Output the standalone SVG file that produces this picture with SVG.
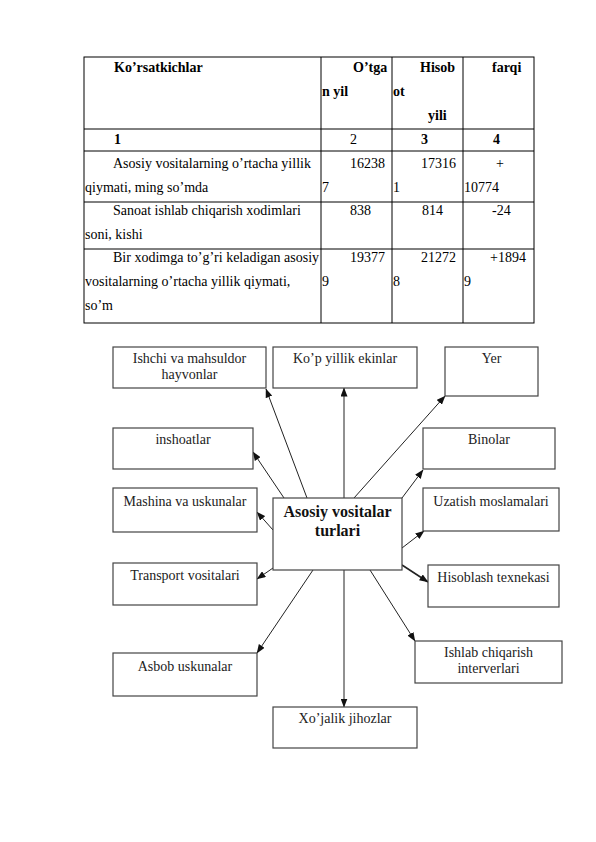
<svg xmlns="http://www.w3.org/2000/svg" width="596" height="842" viewBox="0 0 596 842">
<defs>
<style>
.t{font-family:"Liberation Serif","Times New Roman",serif;font-size:14px;fill:#000}
.b{font-weight:bold}
.tl{stroke:#000;stroke-width:1;fill:none}
.box{fill:#fff;stroke:#444;stroke-width:1.2}
.lb{font-family:"Liberation Serif","Times New Roman",serif;font-size:14px;fill:#222;text-anchor:middle}
.cn{stroke:#222;stroke-width:1;fill:none;marker-end:url(#ah)}
</style>
<marker id="ah" markerUnits="userSpaceOnUse" markerWidth="9" markerHeight="7" refX="8.5" refY="3.5" orient="auto">
<path d="M0,0 L9,3.5 L0,7 z" fill="#111"/>
</marker>
</defs>
<rect width="596" height="842" fill="#fff"/>

<g id="table">
<rect class="tl" x="84" y="57" width="450" height="266"/>
<line class="tl" x1="84" y1="129" x2="534" y2="129"/>
<line class="tl" x1="84" y1="151" x2="534" y2="151"/>
<line class="tl" x1="84" y1="202" x2="534" y2="202"/>
<line class="tl" x1="84" y1="249" x2="534" y2="249"/>
<line class="tl" x1="321" y1="57" x2="321" y2="323"/>
<line class="tl" x1="392" y1="57" x2="392" y2="323"/>
<line class="tl" x1="463" y1="57" x2="463" y2="323"/>

<text class="t b" x="114" y="72">Ko’rsatkichlar</text>
<text class="t b" x="353" y="72">O’tga</text>
<text class="t b" x="322" y="96">n yil</text>
<text class="t b" x="420" y="72">Hisob</text>
<text class="t b" x="393" y="96">ot</text>
<text class="t b" x="428" y="120">yili</text>
<text class="t b" x="492" y="72">farqi</text>

<text class="t b" x="114" y="144">1</text>
<text class="t" x="350" y="144">2</text>
<text class="t b" x="421" y="144">3</text>
<text class="t b" x="493" y="144">4</text>

<text class="t" x="113" y="168">Asosiy vositalarning o’rtacha yillik</text>
<text class="t" x="85" y="192">qiymati, ming so’mda</text>
<text class="t" x="350" y="168">16238</text>
<text class="t" x="322" y="192">7</text>
<text class="t" x="421" y="168">17316</text>
<text class="t" x="393" y="192">1</text>
<text class="t" x="496" y="168">+</text>
<text class="t" x="464" y="192">10774</text>

<text class="t" x="113" y="215">Sanoat ishlab chiqarish xodimlari</text>
<text class="t" x="85" y="239">soni, kishi</text>
<text class="t" x="350" y="215">838</text>
<text class="t" x="422" y="215">814</text>
<text class="t" x="492" y="215">-24</text>

<text class="t" x="113" y="262">Bir xodimga to’g’ri keladigan asosiy</text>
<text class="t" x="85" y="286">vositalarning o’rtacha yillik qiymati,</text>
<text class="t" x="85" y="310">so’m</text>
<text class="t" x="350" y="262">19377</text>
<text class="t" x="322" y="286">9</text>
<text class="t" x="421" y="262">21272</text>
<text class="t" x="393" y="286">8</text>
<text class="t" x="490" y="262">+1894</text>
<text class="t" x="464" y="286">9</text>
</g>

<g id="connectors">
<line class="cn" x1="307" y1="498" x2="266" y2="389"/>
<line class="cn" x1="344" y1="498" x2="344" y2="388"/>
<line class="cn" x1="354" y1="498" x2="445" y2="396"/>
<line class="cn" x1="284" y1="498" x2="253" y2="452"/>
<line class="cn" x1="402" y1="498" x2="423" y2="470"/>
<line class="cn" x1="273" y1="530" x2="257" y2="512"/>
<line class="cn" x1="402" y1="548" x2="424" y2="531"/>
<line class="cn" x1="273" y1="568" x2="257" y2="579"/>
<line class="cn" x1="402" y1="565" x2="428" y2="582" style="stroke-width:1.6"/>
<line class="cn" x1="313" y1="570" x2="257" y2="653"/>
<line class="cn" x1="344" y1="570" x2="344" y2="707"/>
<line class="cn" x1="370" y1="570" x2="415" y2="641"/>
</g>

<g id="n-ishchi">
<rect class="box" x="113" y="347" width="153" height="41"/>
<text class="lb" x="189.5" y="363">Ishchi va mahsuldor</text>
<text class="lb" x="189.5" y="379">hayvonlar</text>
</g>
<g id="n-kop">
<rect class="box" x="273" y="347" width="144" height="41"/>
<text class="lb" x="345" y="363">Ko’p yillik ekinlar</text>
</g>
<g id="n-yer">
<rect class="box" x="445" y="347" width="93" height="49"/>
<text class="lb" x="491.5" y="363">Yer</text>
</g>
<g id="n-inshoatlar">
<rect class="box" x="113" y="428" width="140" height="41"/>
<text class="lb" x="183" y="444">inshoatlar</text>
</g>
<g id="n-binolar">
<rect class="box" x="423" y="428" width="132" height="41"/>
<text class="lb" x="489" y="444">Binolar</text>
</g>
<g id="n-mashina">
<rect class="box" x="113" y="488" width="144" height="44"/>
<text class="lb" x="185" y="506">Mashina va uskunalar</text>
</g>
<g id="n-center">
<rect class="box" x="273" y="498" width="129" height="72"/>
<text class="lb b" x="337.5" y="517" style="font-size:16px;fill:#111">Asosiy vositalar</text>
<text class="lb b" x="337.5" y="536" style="font-size:16px;fill:#111">turlari</text>
</g>
<g id="n-uzatish">
<rect class="box" x="423" y="488" width="136" height="43"/>
<text class="lb" x="491" y="506">Uzatish moslamalari</text>
</g>
<g id="n-transport">
<rect class="box" x="113" y="563" width="144" height="42"/>
<text class="lb" x="185" y="580">Transport vositalari</text>
</g>
<g id="n-hisoblash">
<rect class="box" x="428" y="565" width="131" height="42"/>
<text class="lb" x="493.5" y="582">Hisoblash texnekasi</text>
</g>
<g id="n-asbob">
<rect class="box" x="113" y="653" width="144" height="43"/>
<text class="lb" x="185" y="671">Asbob uskunalar</text>
</g>
<g id="n-ishlab">
<rect class="box" x="415" y="641" width="147" height="42"/>
<text class="lb" x="488.5" y="657">Ishlab chiqarish</text>
<text class="lb" x="488.5" y="673">interverlari</text>
</g>
<g id="n-xojalik">
<rect class="box" x="273" y="707" width="144" height="41"/>
<text class="lb" x="345" y="723">Xo’jalik jihozlar</text>
</g>
</svg>
